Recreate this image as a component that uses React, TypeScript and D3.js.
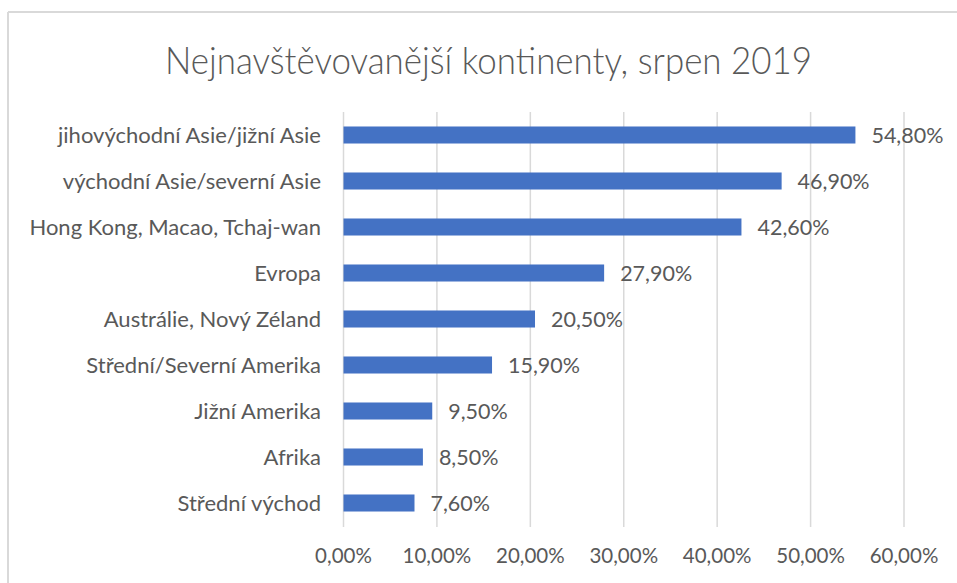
import React from "react";
import * as d3 from "d3";

const categories = [
  "jihovýchodní Asie/jižní Asie",
  "východní Asie/severní Asie",
  "Hong Kong, Macao, Tchaj-wan",
  "Evropa",
  "Austrálie, Nový Zéland",
  "Střední/Severní Amerika",
  "Jižní Amerika",
  "Afrika",
  "Střední východ",
];
const values = [0.548, 0.469, 0.426, 0.279, 0.205, 0.159, 0.095, 0.085, 0.076];
const ticks = [0, 0.1, 0.2, 0.3, 0.4, 0.5, 0.6];
const title = "Nejnavštěvovanější kontinenty, srpen 2019";

const W = 957;
const H = 583;
const FONT = "Lato, 'Open Sans', sans-serif";
const TEXT = "#595959";

const fmt = (v: number) => (v * 100).toFixed(2).replace(".", ",") + "%";

export default function App() {
  const x = d3.scaleLinear().domain([0, 0.6]).range([343.5, 904]);
  const y = d3
    .scaleBand<string>()
    .domain(categories)
    .range([112, 526])
    .paddingInner(0.63)
    .paddingOuter(0.315);
  const bw = y.bandwidth();
  return (
    <svg
      width={W}
      height={H}
      style={{ position: "absolute", left: 0, top: 0, background: "#fff" }}
    >
      <rect x={0} y={0} width={W} height={H} fill="#fff" />
      <line x1={8} y1={12} x2={W} y2={12} stroke="#d9d9d9" strokeWidth={2} />
      <line x1={8} y1={12} x2={8} y2={H} stroke="#d9d9d9" strokeWidth={2} />
      <text
        x={488.5}
        y={74}
        textAnchor="middle"
        fontFamily={FONT}
        fontWeight={300}
        fontSize={37}
        textLength={647}
        lengthAdjust="spacingAndGlyphs"
        fill={TEXT}
      >
        {title}
      </text>
      {ticks.map((t) => (
        <g key={t}>
          <line
            x1={x(t)}
            x2={x(t)}
            y1={112}
            y2={527}
            stroke="#d9d9d9"
            strokeWidth={1.5}
          />
          <text
            x={x(t)}
            y={563}
            textAnchor="middle"
            fontFamily={FONT}
            fontSize={20.5}
            fill={TEXT}
          >
            {fmt(t)}
          </text>
        </g>
      ))}
      {categories.map((c, i) => {
        const yy = y(c)!;
        return (
          <g key={c}>
            <rect
              x={x(0)}
              y={yy}
              width={x(values[i]) - x(0)}
              height={bw}
              fill="#4472C4"
            />
            <text
              x={321}
              y={yy + bw / 2}
              dy="0.36em"
              textAnchor="end"
              fontFamily={FONT}
              fontSize={22}
              fill={TEXT}
            >
              {c}
            </text>
            <text
              x={x(values[i]) + 16}
              y={yy + bw / 2}
              dy="0.36em"
              fontFamily={FONT}
              fontSize={21.5}
              fill={TEXT}
            >
              {fmt(values[i])}
            </text>
          </g>
        );
      })}
    </svg>
  );
}
